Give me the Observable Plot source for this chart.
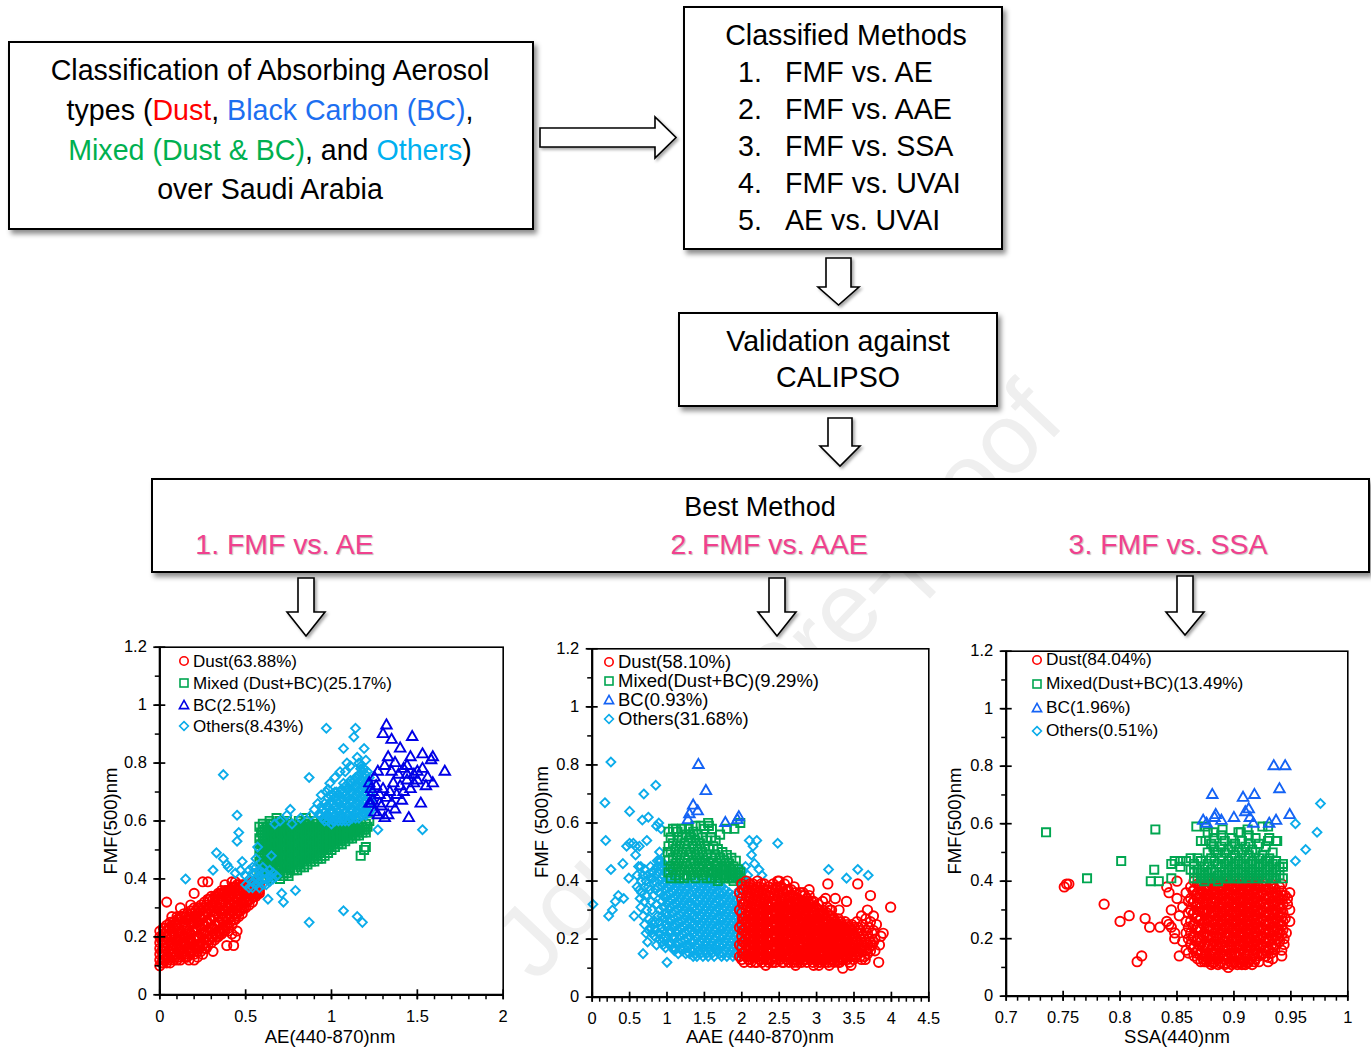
<!DOCTYPE html>
<html><head><meta charset="utf-8">
<script src="https://cdn.jsdelivr.net/npm/d3@7"></script>
<script src="https://cdn.jsdelivr.net/npm/@observablehq/plot@0.6"></script>
<style>
html,body{margin:0;padding:0;background:#fff;}
#page{position:relative;width:1371px;height:1050px;overflow:hidden;font-family:"Liberation Sans",Arial,sans-serif;color:#000;}
.box{position:absolute;border:2px solid #000;background:#fff;box-shadow:3px 4px 5px rgba(0,0,0,.45);box-sizing:border-box;z-index:2;}
.t{position:absolute;white-space:nowrap;line-height:1;z-index:3;}
.c{transform:translate(-50%,-50%);}
.plotwrap{position:absolute;z-index:1;}
</style></head>
<body><div id="page"></div>
<script>
// ---------------- DATA (x, [y...]) groups ----------------
// Panel 1: FMF vs AE   (x = AE*100, y = FMF*100)
const dustAE = [[0,[10,12,14,16,18,20,22]],[2,[11,13,15,17,19,21,23]],[4,[11,13,16,18,20,22,24]],[6,[11,14,16,18,21,23,25]],[8,[12,14,16,19,21,23,25]],[10,[12,14,17,19,22,24,26]],[12,[12,15,17,20,22,25,27]],[14,[13,15,18,20,23,25,28]],[16,[13,16,18,21,23,26,28]],[18,[14,16,19,21,24,27,29]],[20,[14,17,19,22,25,27,30]],[22,[15,17,20,23,25,28,30]],[24,[15,18,21,23,26,29,31]],[26,[16,19,21,24,27,30,32]],[28,[17,19,22,25,28,30,33]],[30,[18,20,23,26,29,31,34]],[32,[19,21,24,27,29,32,34]],[34,[20,22,25,27,30,33,35]],[36,[21,23,26,28,31,33,35]],[38,[22,24,27,29,31,34,36]],[40,[23,26,28,30,32,34,36]],[42,[24,27,29,31,33,35,37]],[44,[26,28,30,32,34,36,37]],[46,[27,29,31,33,35,37,38]],[48,[28,30,32,34,36,38]],[50,[30,32,34,35,37,38]],[52,[31,33,35,36,38]],[54,[32,34,36,37,39]],[56,[34,35,37,38]],[58,[35,36,38]],
[1,[11,15,19]],[3,[12,16,20,23]],[5,[12,15,19,23]],[7,[13,17,20,24]],[9,[13,17,20,24]],[11,[13,16,20,23,26]],[13,[14,18,21,24,27]],[15,[14,17,21,24,27]],[17,[15,19,22,26]],[19,[15,18,22,25,28]],[21,[16,20,23,27,29]],[23,[17,20,24,27,30]],[25,[17,21,24,28,30]],[27,[18,22,25,29,31]],[29,[19,23,26,30,33]],[31,[20,23,27,30,33]],[33,[21,24,28,31,34]],[35,[22,25,29,32,35]],[37,[23,26,29,32,35]],[39,[24,27,30,33,36]],[41,[25,28,31,34,36]],[43,[26,29,32,35,37]],[45,[28,31,34,36,38]],[47,[29,32,35,37]],[49,[30,33,36,38]],[51,[32,34,37]],[53,[33,35,38]],[55,[34,37,39]],[57,[35,37]],
[4,[32]],[7,[27]],[10,[27]],[12,[30]],[18,[31]],[20,[35]],[25,[39]],[28,[39]],[36,[36]],[38,[38]],[42,[39]],[44,[39]],[33,[20]],[35,[21]],[39,[17]],[42,[21]],[43,[17]],[45,[22]],[44,[20]],[27,[16]],[20,[12]],[17,[12]],[15,[13]],[22,[13]],[25,[14]],[23,[16]],[29,[19]],[31,[15]],[40,[22]]];
const mixedAE = [[58,[42,46,50,54,58]],[60,[40,43,46,49,52,55,58]],[62,[40,43,46,49,52,55,58]],[64,[41,44,47,50,53,56,59]],[66,[41,44,47,50,53,56,59]],[68,[41,44,47,50,53,56,59]],[70,[42,45,48,51,54,57,60]],[72,[42,45,48,51,54,57,59]],[74,[42,45,48,51,54,57,60]],[76,[43,46,49,52,55,58]],[78,[43,46,49,52,55,58]],[80,[43,46,49,52,55,58]],[82,[44,47,50,53,56,59]],[84,[44,47,50,53,56,59]],[86,[45,48,51,54,57,60]],[88,[46,49,52,55,58]],[90,[46,49,52,55,58]],[92,[47,50,53,56,59]],[94,[48,51,54,57,60]],[96,[48,51,54,57,59]],[98,[49,52,55,58]],[100,[50,53,56,59]],[102,[51,54,57,59]],[104,[52,55,57,60]],[106,[52,55,58]],[108,[53,56,58]],[110,[54,56,59]],[112,[54,57,59]],[114,[55,57,60]],[116,[55,58]],[118,[56,58]],[120,[56,59]],
[59,[44,48,52,56]],[61,[42,45,48,51,54,57]],[63,[42,45,48,51,54,57]],[65,[43,46,49,52,55,58]],[67,[42,46,49,52,55,58]],[69,[43,46,49,52,55,58]],[71,[44,47,50,53,56,59]],[73,[44,47,50,53,56,58]],[75,[44,47,50,53,56,59]],[77,[45,48,51,54,57]],[79,[45,48,51,54,57]],[81,[45,48,51,54,57,60]],[83,[46,49,52,55,58]],[85,[47,50,53,56,59]],[87,[47,50,53,56,59]],[89,[48,51,54,57]],[91,[48,51,54,57,60]],[93,[49,52,55,58]],[95,[50,53,56,59]],[97,[50,53,56,59]],[99,[51,54,57]],[101,[52,55,58]],[103,[53,56,59]],[105,[53,56,59]],[107,[54,57]],[109,[55,58]],[111,[55,58]],[113,[56,59]],[115,[56,59]],[117,[57]],[119,[57]],[121,[58]],
[60,[59]],[61,[53]],[62,[51]],[117,[48]],[119,[50]],[120,[51]],[94,[47]],[75,[41]],[70,[40]],[72,[41]],[64,[60]],[68,[61]],[122,[60]],[85,[61]]];
const bcAE = [[132,[93]],[130,[90]],[135,[88]],[147,[89]],[140,[85]],[153,[83]],[146,[82]],[159,[82]],[158,[81]],[166,[77]],[159,[73]],[152,[66]],[145,[61]],[127,[77]],[131,[79]],[135,[77]],[139,[76]],[142,[78]],[144,[79]],[148,[76]],[150,[77]],[153,[78]],[156,[75]],[122,[73,66]],[124,[70,67]],[126,[72]],[128,[69,66]],[130,[71]],[132,[68]],[134,[70]],[136,[73]],[138,[69]],[140,[72]],[142,[70]],[144,[74]],[146,[71]],[148,[73]],[123,[66]],[125,[63,75]],[127,[62]],[129,[65]],[131,[61]],[133,[62,82]],[135,[66]],[137,[64,80]],[141,[67]],[150,[74]],[155,[72]],[144,[76]],[123,[71]]];
const othersAE = [[50,[38,41]],[52,[37,40,43]],[54,[37,39,42,44]],[56,[38,40,42,44]],[58,[37,39,41,43]],[60,[38,40,42,44]],[62,[38,40,42]],[64,[39,41,43]],[66,[40,42]],[68,[41]],
[94,[62,65]],[96,[60,63,66]],[98,[60,62,65,68]],[100,[59,61,64,67]],[102,[60,62,65,68,70]],[104,[60,63,66,69]],[106,[60,62,65,68,71]],[108,[60,63,66,69,72]],[110,[60,62,65,68,71,73]],[112,[61,64,67,70,73]],[114,[61,63,66,69,72,75]],[116,[61,64,67,70,73,76]],[118,[62,65,68,71,74,77]],[120,[62,64,67,70,73,76]],[122,[63,66,69,72,75]],
[95,[61,64]],[97,[62,65]],[99,[61,63,66,69]],[101,[60,63,66,69]],[103,[61,64,67,70]],[105,[61,64,67,70]],[107,[61,64,67,70,73]],[109,[62,65,68,71]],[111,[61,64,67,70,74]],[113,[62,65,68,71,74]],[115,[63,66,69,72,75]],[117,[62,65,68,71,74,78]],[119,[63,66,69,72,75,78]],[121,[63,65,68,71,74,77]],[123,[64,67,70]],
[37,[76]],[15,[40]],[33,[49]],[31,[43]],[37,[47]],[39,[45]],[40,[44]],[45,[62]],[46,[56]],[45,[53]],[47,[43]],[44,[42]],[57,[51]],[63,[33]],[71,[35]],[72,[32]],[79,[36]],[87,[25]],[107,[29]],[115,[27]],[118,[25]],[87,[75]],[97,[92]],[114,[92]],[113,[89]],[107,[85]],[119,[85]],[115,[82]],[109,[80]],[120,[81]],[117,[79]],[108,[77]],[127,[57]],[153,[57]],[67,[59]],[70,[60]],[76,[64]],[77,[59]],[74,[62]],[90,[64]],[92,[66]],[94,[69]],[98,[71]],[97,[70]],[93,[62]],[88,[62]],[82,[61]],[56,[47]],[65,[48]],[48,[46]],[102,[75]],[105,[77]],[111,[79]],[116,[80]],[99,[73]]];

// Panel 2: FMF vs AAE  (x = AAE*100, y = FMF*100)
const dustAAE = [[197,[36,30,24,18,14]],[200,[39,34,29,25,21,17,13]],[203,[37,32,27,23,19,15,12]],[206,[40,35,30,26,22,18,14]],[209,[38,33,28,24,20,16,13]],[212,[36,31,27,23,19,15,12]],[215,[39,34,29,25,21,17,14]],[218,[37,32,28,24,20,16,12]],[221,[40,35,30,26,22,18,14]],[224,[38,33,29,25,21,17,13]],[227,[36,31,27,23,19,15,12]],[230,[39,34,30,26,22,18,14]],[233,[37,32,28,24,20,16,13]],[236,[38,35,31,27,23,19,15,12]],[239,[36,33,29,25,21,17,13]],[242,[39,34,30,26,22,18,14]],[245,[37,32,28,24,20,16,12]],[248,[40,35,31,27,23,19,15]],[251,[38,33,29,25,21,17,13]],[254,[36,31,27,23,19,15,12]],[257,[39,34,30,26,22,18,14]],[260,[37,32,28,24,20,16,13]],[263,[35,31,27,23,19,15,12]],[266,[37,33,29,25,21,17,14]],[269,[35,30,26,22,18,15,12]],[272,[36,32,28,24,20,17,13]],[275,[34,30,26,22,18,15,12]],[278,[36,31,27,23,19,16,13]],[281,[33,29,25,21,17,14]],[284,[35,31,27,23,20,16,13]],[287,[34,30,26,22,18,15,12]],[290,[35,32,28,24,21,17,14]],[293,[33,30,26,23,19,16,13]],[296,[33,29,25,21,18,14,11]],[299,[31,27,24,20,17,13]],[302,[32,29,26,22,19,15,12]],[305,[28,25,21,18,15,12]],[308,[33,30,26,23,19,16,13]],[311,[27,24,21,18,15,12]],[314,[31,29,25,22,19,16,13]],[317,[26,23,20,17,14,11]],[320,[30,28,25,22,19,16,13]],[323,[27,24,21,18,15,12]],[326,[25,22,19,17,14]],[329,[27,24,21,18,15,12]],[332,[26,23,20,17,14]],[335,[24,21,19,16,13,10]],[338,[26,23,20,17,14]],[341,[25,22,19,16,13]],[344,[23,21,18,15,12]],[347,[25,22,19,17,14]],[350,[24,21,18,15]],[352,[20,17,14]],[354,[26,22,19,16]],[356,[24,18,15]],[358,[23,20,17,14]],[360,[22,19,16,13]],[362,[25,21,18]],[364,[20,17,14]],[366,[27,23,19,16]],[368,[22,18,15]],[370,[24,20,17]],[372,[19,16]],[374,[22,18]],[376,[23,19]],[378,[20,16]],
[201,[37,32,27,23,19,15]],[205,[38,33,28,24,20,16]],[208,[36,31,26,22,18,14]],[211,[39,34,29,25,21,17,13]],[214,[37,32,27,23,19,15]],[217,[35,30,26,22,18,14]],[220,[38,33,28,24,20,16,12]],[223,[36,31,27,23,19,15]],[226,[39,34,29,25,21,17,13]],[229,[37,32,28,24,20,16]],[232,[35,30,26,22,18,14]],[235,[38,33,29,25,21,17,13]],[238,[36,31,27,23,19,15]],[241,[37,32,28,24,20,16,12]],[244,[35,30,26,22,18,14]],[247,[38,33,29,25,21,17,13]],[250,[36,31,27,23,19,15]],[253,[38,34,29,25,21,17,14]],[256,[36,32,28,24,20,16,12]],[259,[34,30,26,22,18,14]],[262,[37,33,29,25,21,17,13]],[265,[35,31,27,23,19,15]],[268,[33,29,25,21,17,13]],[271,[34,30,26,22,18,14]],[274,[32,28,24,20,16,13]],[277,[33,29,25,21,17,14]],[280,[35,31,27,23,19,15,12]],[283,[33,29,25,21,18,14]],[286,[32,28,24,20,16,13]],[289,[33,29,25,22,18,15]],[292,[31,27,24,20,17,14]],[295,[31,27,23,19,16,12]],[298,[29,25,22,18,15]],[301,[30,27,23,20,17,13]],[304,[30,26,23,19,16,13]],[307,[28,24,21,17,14]],[310,[29,25,22,19,16,13]],[313,[27,23,20,17,14]],[316,[28,24,21,18,15,12]],[319,[27,24,21,18,15]],[322,[25,22,19,16,13]],[325,[26,23,20,17,14]],[328,[25,22,19,16,13]],[331,[24,21,18,15,12]],[334,[25,22,19,16,13]],[337,[24,21,18,15]],[340,[23,20,17,14]],[343,[24,21,18,15]],[346,[23,20,17,14]],[349,[22,19,16,13]],
[399,[31]],[389,[22]],[383,[12]],[372,[35]],[355,[39]],[315,[39]],[312,[34]],[325,[34]],[318,[30]],[340,[33]],[330,[30]],[261,[40]],[250,[40]],[232,[11]],[272,[11]],[303,[11]],[346,[11]],[376,[28]],[380,[25]],[368,[30]],[372,[26]],[384,[18]],[386,[21]],[365,[13]],[360,[28]],[282,[36]],[290,[37]],[270,[38]]];
const mixedAAE = [[102,[57,52,47,43]],[105,[55,50,45,41]],[108,[58,53,48,44]],[111,[51,46,42]],[114,[57,54,49,45]],[117,[52,47,43,41]],[120,[58,55,50,45]],[123,[53,48,44,41]],[126,[56,51,46,42]],[129,[58,54,49,44]],[132,[55,50,46,42]],[135,[57,52,47,43]],[138,[59,54,49,45,41]],[141,[56,51,47,43]],[144,[53,48,44]],[147,[55,50,46,42]],[150,[58,52,47,43]],[153,[54,49,45,41]],[156,[59,51,46,43]],[159,[55,48,44,41]],[162,[52,47,43]],[165,[54,49,45,42]],[168,[51,46,43,40]],[171,[56,48,44,41]],[174,[50,45,42]],[177,[47,44,41]],[180,[58,49,45,42]],[183,[46,43,41]],[186,[48,44,41]],[189,[45,42,40]],[192,[47,43,41]],[195,[44,42]],[198,[60,43,41]],
[190,[58]],[160,[58]],[145,[59]],[155,[60]],[131,[56]],[112,[58]],[101,[50]]];
const bcAAE = [[142,[80]],[152,[71]],[135,[66]],[141,[64]],[130,[63]],[128,[61]],[178,[60]],[196,[62]],[194,[61]]];
const othersAAE = [[90,[47,44,40,36,30,26,22]],[93,[45,41,38,33,28,24,19]],[95,[46,42,39,35,31,27,23,20]],[98,[43,40,37,34,29,25,21,17]],[100,[45,41,38,35,32,28,24,20]],[103,[43,39,36,33,30,26,22,18]],[105,[41,38,34,31,27,23,19]],[108,[42,39,36,32,29,25,21,17]],[110,[40,37,34,30,27,24,20,16]],[113,[41,38,35,32,28,25,22,18]],[115,[39,36,33,30,26,23,19,15]],[118,[40,37,34,31,28,24,21,17]],[120,[38,35,32,29,26,22,19,16]],[123,[39,36,33,30,27,24,20,17]],[125,[41,37,34,31,28,25,22,18,15]],[128,[38,35,32,29,26,23,20,17]],[130,[40,36,33,30,27,24,21,18,15]],[133,[39,35,32,29,26,23,19,16]],[135,[38,34,31,28,25,22,19,16,14]],[138,[40,37,33,30,27,24,21,18,15]],[140,[38,35,32,29,26,23,20,17,14]],[143,[39,36,33,30,27,24,21,18,16]],[145,[40,37,34,31,28,25,22,19,15]],[148,[38,35,32,29,26,23,20,17,14]],[150,[39,36,33,30,27,24,21,18,16]],[153,[40,37,34,31,28,25,22,19,15]],[155,[38,35,32,29,26,23,20,17,14]],[158,[39,36,33,30,27,24,21,18,16]],[160,[40,37,34,31,28,25,22,19,15]],[163,[38,35,32,29,26,23,20,17,14]],[165,[39,36,33,30,27,24,21,18,16]],[168,[37,34,31,28,25,22,19,16]],[170,[39,36,33,30,27,24,21,18,15]],[173,[38,35,32,29,26,23,20,17,14]],[175,[36,33,30,27,24,21,18,15]],[178,[37,34,31,28,25,22,19,16]],[180,[35,32,29,26,23,20,17,14]],[183,[36,33,30,27,24,21,18,15]],[185,[34,31,28,25,22,19,16]],[188,[35,32,29,26,23,20,17,14]],[190,[33,30,27,24,21,18,15]],[193,[34,31,28,25,22,19,16]],[195,[32,29,26,23,20,17,14]],[198,[30,27,24,21,18,15]],
[195,[40]],[198,[42]],[200,[44,35,30,25,22]],[202,[41]],[197,[37]],[205,[38,45]],[208,[42]],[203,[40]],[196,[14]],
[65,[45]],[68,[42]],[70,[44]],[72,[40]],[75,[38]],[78,[41]],[80,[43]],[83,[40]],[85,[37]],[88,[38]],[70,[33]],[73,[30]],[76,[27]],[79,[33]],[82,[35]],[86,[32]],[88,[28]],[84,[26]],[80,[26]],[76,[23]],[72,[22]],[70,[25]],[74,[19]],[86,[18]],[83,[21]],[60,[42]],[63,[37]],[66,[36]],[68,[28]],[65,[31]],[89,[43]],[92,[47]],[87,[45]],[95,[44]],
[1,[32]],[17,[67]],[25,[81]],[18,[54]],[25,[44]],[22,[28]],[27,[30]],[31,[33]],[35,[35]],[41,[46]],[49,[41]],[42,[34]],[50,[64]],[50,[53]],[55,[53]],[58,[52]],[63,[52]],[46,[52]],[58,[49]],[56,[28]],[69,[70]],[85,[73]],[67,[61]],[75,[62]],[86,[59]],[89,[60]],[92,[58]],[73,[54]],[68,[15]],[100,[12]],[110,[17]],[62,[45]],[66,[40]],[70,[38]],[72,[35]],[74,[42]],[78,[45]],[80,[30]],[82,[25]],[85,[23]],[88,[22]],[90,[20]],[93,[24]],[95,[18]],[60,[38]],[64,[34]],[77,[37]],[81,[41]],[84,[44]],[87,[47]],[90,[50]],[78,[24]],[80,[22]],
[210,[54]],[215,[52]],[220,[54]],[213,[49]],[217,[46]],[223,[44]],[227,[42]],[248,[53]],[316,[44]],[340,[41]],[355,[44]],[369,[42]]];

// Panel 3: FMF vs SSA  (x = SSA*1000, y = FMF*100)
const dustSSA = [[862,[38,34,30,26,22,18]],[865,[40,37,33,29,25,21,17,14]],[868,[39,36,32,28,24,20,16,13]],[871,[40,37,34,31,27,23,19,15,12]],[874,[38,35,32,29,26,22,18,14,12]],[877,[40,37,34,30,27,24,21,17,13]],[880,[39,36,33,29,26,23,20,16,13,11]],[883,[40,37,34,31,28,25,22,19,15,12]],[886,[38,35,32,29,26,23,20,17,14,11]],[889,[40,37,34,31,28,25,22,18,15,12]],[892,[39,36,33,30,27,24,21,17,14,11]],[895,[40,37,34,31,28,25,22,19,16,13,10]],[898,[38,35,32,29,26,23,20,17,14,11]],[901,[40,37,34,31,28,25,22,19,15,12]],[904,[39,36,33,30,27,24,21,18,15,12]],[907,[40,37,34,31,28,25,22,19,16,13,11]],[910,[38,35,32,29,26,23,20,17,14,11]],[913,[40,37,34,31,28,25,22,19,16,12]],[916,[39,36,33,30,27,24,21,18,14,11]],[919,[40,37,34,31,28,25,22,19,16,13]],[922,[38,35,32,29,26,23,20,17,14,12]],[925,[40,36,33,30,27,24,21,18,15]],[928,[39,35,32,29,26,23,20,17,14]],[931,[37,34,31,28,25,22,19,16]],[934,[38,35,32,29,26,23,20,17,13]],[937,[36,33,30,27,24,21,18]],[940,[38,34,31,28,25,22,19]],[943,[35,32,29,26,23]],
[867,[35,31,27,23,19,15]],[873,[36,33,30,25,21,17,13]],[879,[38,35,31,28,24,21,18,14,12]],[885,[39,36,33,30,27,24,21,18,16,13]],[891,[38,35,32,29,26,23,19,16,13]],[897,[39,36,33,30,27,24,21,18,15,12]],[903,[38,35,32,29,26,23,20,17,14,11]],[909,[39,36,33,30,27,24,21,18,15,12]],[915,[38,35,32,29,26,23,20,17,13]],[921,[39,36,33,30,27,24,21,18,15]],[927,[37,34,31,28,25,22,19,16]],[933,[39,36,33,30,27,24,21,18,15]],[939,[35,32,29,26,23,20]],
[864,[36.5,32.5,28.5,24.5,20.5,16.5]],[870,[38.5,35.5,32.5,29.5,26.5,23.5,20.5,17.5,14.5]],[876,[38.5,35.5,32.5,29.5,26.5,23.5,20.5,17.5,14.5,12]],[882,[38.5,35.5,32.5,29.5,26.5,23.5,20.5,17.5,14.5,11.5]],[888,[38.5,35.5,32.5,29.5,26.5,23.5,20.5,17.5,14.5,11.5]],[894,[38.5,35.5,32.5,29.5,26.5,23.5,20.5,17.5,14.5,11.5]],[900,[38.5,35.5,32.5,29.5,26.5,23.5,20.5,17.5,14.5,11.5]],[906,[38.5,35.5,32.5,29.5,26.5,23.5,20.5,17.5,14.5,11.5]],[912,[38.5,35.5,32.5,29.5,26.5,23.5,20.5,17.5,14.5,11.5]],[918,[38.5,35.5,32.5,29.5,26.5,23.5,20.5,17.5,14.5,12]],[924,[38.5,35.5,32.5,29.5,26.5,23.5,20.5,17.5,14.5]],[930,[37.5,34.5,31.5,28.5,25.5,22.5,19.5,16.5,13.5]],[936,[37.5,34.5,31.5,28.5,25.5,22.5,19.5,16.5]],[942,[36.5,33.5,30.5,27.5,24.5,21.5]],
[751,[38]],[753,[39]],[755,[39]],[786,[32]],[800,[26]],[808,[28]],[822,[27]],[826,[24]],[835,[24]],[815,[12]],[819,[14]],[841,[26,38]],[843,[36,25]],[845,[24,30]],[848,[20,22]],[850,[40,34]],[852,[14,28]],[855,[31,19]],[858,[36,26,22,16]],[860,[33,29,24,20,15]],[930,[12]],[945,[35,27]],[947,[34,32]],[949,[36,30,26]],[942,[39,16,14]],[944,[20,18]],[946,[22]]];
const mixedSSA = [[865,[46,43,41]],[868,[48,44,41]],[871,[54,47,43,41]],[874,[45,42,40]],[877,[57,50,46,43,41]],[880,[53,48,44,41]],[883,[55,51,47,43,41]],[886,[50,46,42,40]],[889,[56,52,48,45,42]],[892,[54,50,46,43,41]],[895,[51,47,44,41]],[898,[55,52,48,45,42]],[901,[53,49,46,43,41]],[904,[57,51,47,44,41]],[907,[54,50,46,43,41]],[910,[52,48,45,42]],[913,[56,53,49,46,43,41]],[916,[51,47,44,42]],[919,[55,50,46,43,41]],[922,[53,48,45,42]],[925,[49,46,43,41]],[928,[52,47,44,41]],[931,[55,48,45,42]],[934,[50,46,43,41]],[937,[54,47,44,41]],[940,[45,42]],[943,[45,41]],
[735,[57]],[771,[41]],[801,[47]],[831,[58]],[867,[59]],[827,[40]],[830,[44]],[834,[40]],[845,[41,46]],[848,[47]],[853,[45,47]],[858,[47]],[862,[48,44]],[875,[54,59]],[882,[57,52]],[890,[58]],[906,[57]],[912,[58]],[925,[59]],[930,[59,54]],[938,[54]],[943,[46]]];
const bcSSA = [[881,[70]],[908,[69]],[918,[70]],[935,[80]],[945,[80]],[940,[72]],[913,[65]],[910,[64]],[949,[63]],[900,[62]],[884,[63]],[883,[62]],[873,[61]],[876,[60]],[889,[61]],[914,[62]],[917,[60]],[931,[60]],[937,[61]]];
const othersSSA = [[976,[67]],[954,[60]],[973,[57]],[963,[51]],[954,[47]]];

// Legends, axis ticks, titles
const legendAE  = ["Dust(63.88%)", "Mixed (Dust+BC)(25.17%)", "BC(2.51%)", "Others(8.43%)"];
const legendAAE = ["Dust(58.10%)", "Mixed(Dust+BC)(9.29%)", "BC(0.93%)", "Others(31.68%)"];
const legendSSA = ["Dust(84.04%)", "Mixed(Dust+BC)(13.49%)", "BC(1.96%)", "Others(0.51%)"];
const yTicks = [0, 0.2, 0.4, 0.6, 0.8, 1, 1.2];
const xTicksAE  = [0, 0.5, 1, 1.5, 2];
const xTicksAAE = [0, 0.5, 1, 1.5, 2, 2.5, 3, 3.5, 4, 4.5];
const xTicksSSA = [0.7, 0.75, 0.8, 0.85, 0.9, 0.95, 1];

// ---------------- RENDER ----------------
const C = {red:"#ff0000", green:"#00a650", blue1:"#0000e6", blue:"#1463f5", cyan:"#0bacea", pink:"#f0418e"};
const page = document.getElementById("page");
const toPts = (groups, kx, ky) => groups.flatMap(([x, ys]) => ys.map(y => ({x: x / kx, y: y / ky})));
const fmt = d => String(Math.round(d * 100) / 100);

function txt(html, x, y, size, opts = {}) {
  const d = document.createElement("div");
  d.className = "t" + (opts.center === false ? "" : " c");
  d.innerHTML = html;
  d.style.left = x + "px"; d.style.top = y + "px"; d.style.fontSize = size + "px";
  if (opts.center === false) d.style.transform = "translateY(-50%)";
  if (opts.rotate) d.style.transform = "translate(-50%,-50%) rotate(-90deg)";
  if (opts.color) d.style.color = opts.color;
  if (opts.shadow) d.style.textShadow = opts.shadow;
  page.appendChild(d);
}
function box(l, t, w, h) {
  const d = document.createElement("div");
  d.className = "box";
  Object.assign(d.style, {left: l + "px", top: t + "px", width: w + "px", height: h + "px"});
  page.appendChild(d);
}

// background: watermark + arrows
const NS = "http://www.w3.org/2000/svg";
const bg = document.createElementNS(NS, "svg");
bg.setAttribute("width", 1371); bg.setAttribute("height", 1050);
bg.style.cssText = "position:absolute;left:0;top:0;z-index:0";
bg.innerHTML = `<text x="510" y="960" transform="rotate(-46.5 510 960)" font-size="100" fill="#efefef" dominant-baseline="central" font-family="Liberation Sans, Arial">Journal Pre-proof</text>`;
page.appendChild(bg);
const fg = document.createElementNS(NS, "svg");
fg.setAttribute("width", 1371); fg.setAttribute("height", 1050);
fg.style.cssText = "position:absolute;left:0;top:0;z-index:4;pointer-events:none";
const arrowStyle = `fill="#fff" stroke="#000" stroke-width="1.6" stroke-linejoin="miter" filter="url(#sh)"`;
function downArrow(c, y0, yb, y1, sw, hw) {
  return `<polygon ${arrowStyle} points="${c-sw},${y0} ${c+sw},${y0} ${c+sw},${yb} ${c+hw},${yb} ${c},${y1} ${c-hw},${yb} ${c-sw},${yb}"/>`;
}
fg.innerHTML = `<defs><filter id="sh" x="-30%" y="-30%" width="160%" height="160%"><feDropShadow dx="2" dy="2" stdDeviation="1.5" flood-color="#000" flood-opacity="0.35"/></filter></defs>
<polygon ${arrowStyle} points="540,128 655,128 655,117 676,137.5 655,158 655,147 540,147"/>
${downArrow(838.5, 258, 287, 305, 12.5, 20.5)}
${downArrow(840, 418, 446, 466, 12, 20)}
${downArrow(306, 578, 612, 636, 8, 19)}
${downArrow(777, 578, 612, 636, 8, 19)}
${downArrow(1185, 576, 612, 635, 8, 19)}`;
page.appendChild(fg);

// flowchart boxes
box(8, 41, 526, 189);
txt("Classification of Absorbing Aerosol", 270, 70, 28.6);
txt(`types (<span style="color:${C.red}">Dust</span>, <span style="color:#1d6ff0">Black Carbon (BC)</span>,`, 270, 110, 28.6);
txt(`<span style="color:#00b050">Mixed (Dust &amp; BC)</span>, and <span style="color:#00b0f0">Others</span>)`, 270, 150, 28.6);
txt("over Saudi Arabia", 270, 189, 28.6);

box(683, 6, 320, 244);
txt("Classified Methods", 846, 35, 28.6);
const methods = ["FMF vs. AE", "FMF vs. AAE", "FMF vs. SSA", "FMF vs. UVAI", "AE vs. UVAI"];
methods.forEach((m, i) => {
  txt((i + 1) + ".", 738, 72 + i * 37, 28.6, {center: false});
  txt(m, 785, 72 + i * 37, 28.6, {center: false});
});

box(678, 312, 320, 95);
txt("Validation against", 838, 341, 28.6);
txt("CALIPSO", 838, 377, 28.6);

box(151, 478, 1219, 95);
txt("Best Method", 760, 507, 27);
const best = ["1. FMF vs. AE", "2. FMF vs. AAE", "3. FMF vs. SSA"];
[284.5, 769, 1168].forEach((cx, i) => txt(best[i], cx, 544, 28.4, {color: C.pink, shadow: "1px 1px 1px rgba(0,0,0,0.25)"}));

// scatter panels
const SW = 1.9;
function panel(cfg) {
  const {left, top, mL, mT, fw, fh, xDomain, xMajor, xStep, yMinorStep, layers} = cfg;
  const mR = 14, mB = 44;
  const W = mL + fw + mR, H = mT + fh + mB;
  const xMinor = d3.range(xDomain[0], xDomain[1] + xStep / 2, xStep);
  const yMinor = d3.range(0, 1.2 + 0.05, yMinorStep);
  const svg = Plot.plot({
    width: W, height: H,
    marginLeft: mL, marginTop: mT, marginRight: mR, marginBottom: mB,
    x: {domain: xDomain}, y: {domain: [0, 1.2]},
    style: {fontFamily: '"Liberation Sans", Arial, sans-serif', fontSize: "16.5px", color: "#000", background: "transparent", overflow: "visible"},
    marks: [
      Plot.frame({fill: "#fff", stroke: "none"}),
      ...layers.map(l => Plot.dot(l.data, {x: "x", y: "y", symbol: l.symbol, r: l.r, stroke: l.color, fill: "none", strokeWidth: SW})),
      Plot.frame({stroke: "#000", strokeWidth: 1.6}),
      Plot.ruleX([xDomain[0]], {stroke: "#000", strokeWidth: 2.2}),
      Plot.ruleY([0], {stroke: "#000", strokeWidth: 2.2}),
      Plot.axisX({ticks: xMinor, tickSize: 5, tickFormat: () => "", strokeWidth: 1.5, label: null}),
      Plot.axisX({ticks: xMajor, tickSize: 5, tickPadding: 10, tickFormat: fmt, strokeWidth: 1.7, label: null}),
      Plot.tickX(xMajor, {x: d => d, insetTop: fh - 5, stroke: "#000", strokeWidth: 1.7}),
      Plot.axisY({ticks: yMinor, tickSize: 4.5, tickFormat: () => "", strokeWidth: 1.5, label: null}),
      Plot.axisY({ticks: yTicks, tickSize: 6, tickPadding: 7, tickFormat: fmt, strokeWidth: 1.7, label: null}),
      Plot.tickY(yTicks, {y: d => d, insetRight: fw - 6, stroke: "#000", strokeWidth: 1.7})
    ]
  });
  const wrap = document.createElement("div");
  wrap.className = "plotwrap";
  wrap.style.left = left + "px"; wrap.style.top = top + "px";
  wrap.appendChild(svg);
  page.appendChild(wrap);
}

const L1 = [
  {data: toPts(dustAE, 100, 100), symbol: "circle", r: 4.6, color: C.red},
  {data: toPts(mixedAE, 100, 100), symbol: "square", r: 4.6, color: C.green},
  {data: toPts(othersAE, 100, 100), symbol: "diamond2", r: 4, color: C.cyan},
  {data: toPts(bcAE, 100, 100), symbol: "triangle", r: 3.9, color: C.blue1}
];
panel({left: 90, top: 630, mL: 69.3, mT: 16.7, fw: 343.4, fh: 347.6, xDomain: [0, 2], xMajor: xTicksAE, xStep: 0.1, yMinorStep: 0.1, layers: L1});

const L2 = [
  {data: toPts(othersAAE, 100, 100), symbol: "diamond2", r: 4, color: C.cyan},
  {data: toPts(mixedAAE, 100, 100), symbol: "square", r: 4.6, color: C.green},
  {data: toPts(dustAAE, 100, 100), symbol: "circle", r: 4.7, color: C.red},
  {data: toPts(bcAAE, 100, 100), symbol: "triangle", r: 3.9, color: C.blue}
];
panel({left: 522, top: 630, mL: 69.7, mT: 18.3, fw: 336.6, fh: 348.4, xDomain: [0, 4.5], xMajor: xTicksAAE, xStep: 0.1, yMinorStep: 0.1, layers: L2});

const L3 = [
  {data: toPts(dustSSA, 1000, 100), symbol: "circle", r: 4.7, color: C.red},
  {data: toPts(mixedSSA, 1000, 100), symbol: "square", r: 4.6, color: C.green},
  {data: toPts(bcSSA, 1000, 100), symbol: "triangle", r: 3.9, color: C.blue},
  {data: toPts(othersSSA, 1000, 100), symbol: "diamond2", r: 4, color: C.cyan}
];
panel({left: 936, top: 630, mL: 69.7, mT: 20.7, fw: 341.6, fh: 345, xDomain: [0.7, 1], xMajor: xTicksSSA, xStep: 0.01, yMinorStep: 0.1, layers: L3});

// axis titles
txt("AE(440-870)nm", 330, 1037, 18.5);
txt("FMF(500)nm", 111, 821, 18.5, {rotate: true});
txt("AAE (440-870)nm", 760, 1037, 18.5);
txt("FMF (500)nm", 542, 822, 18.5, {rotate: true});
txt("SSA(440)nm", 1177, 1037, 18.5);
txt("FMF(500)nm", 955, 821, 18.5, {rotate: true});

// legends
function symSvg(kind, color) {
  const s = {
    circle: `<circle cx="6" cy="6" r="4.2" fill="none" stroke="${color}" stroke-width="1.6"/>`,
    square: `<rect x="2" y="2" width="8" height="8" fill="none" stroke="${color}" stroke-width="1.6"/>`,
    triangle: `<polygon points="6,1.3 10.6,9.6 1.4,9.6" fill="none" stroke="${color}" stroke-width="1.6"/>`,
    diamond: `<polygon points="6,1.6 10.4,6 6,10.4 1.6,6" fill="none" stroke="${color}" stroke-width="1.6"/>`
  }[kind];
  return `<svg width="12" height="12" style="position:absolute;left:-6px;top:-6px;overflow:visible">${s}</svg>`;
}
function legend(labels, symX, textX, rows, size, colors) {
  const kinds = ["circle", "square", "triangle", "diamond"];
  labels.forEach((lab, i) => {
    const d = document.createElement("div");
    d.style.cssText = `position:absolute;left:${symX}px;top:${rows[i]}px;z-index:3;width:0;height:0`;
    d.innerHTML = symSvg(kinds[i], colors[i]);
    page.appendChild(d);
    txt(lab, textX, rows[i], size, {center: false});
  });
}
legend(legendAE, 184, 193, [661, 683, 704.5, 726], 17, [C.red, C.green, C.blue1, C.cyan]);
legend(legendAAE, 608.5, 618, [662, 681, 700, 719], 18.5, [C.red, C.green, C.blue, C.cyan]);
legend(legendSSA, 1037, 1046, [660, 684, 708, 731], 17.3, [C.red, C.green, C.blue, C.cyan]);
</script>
</body></html>
